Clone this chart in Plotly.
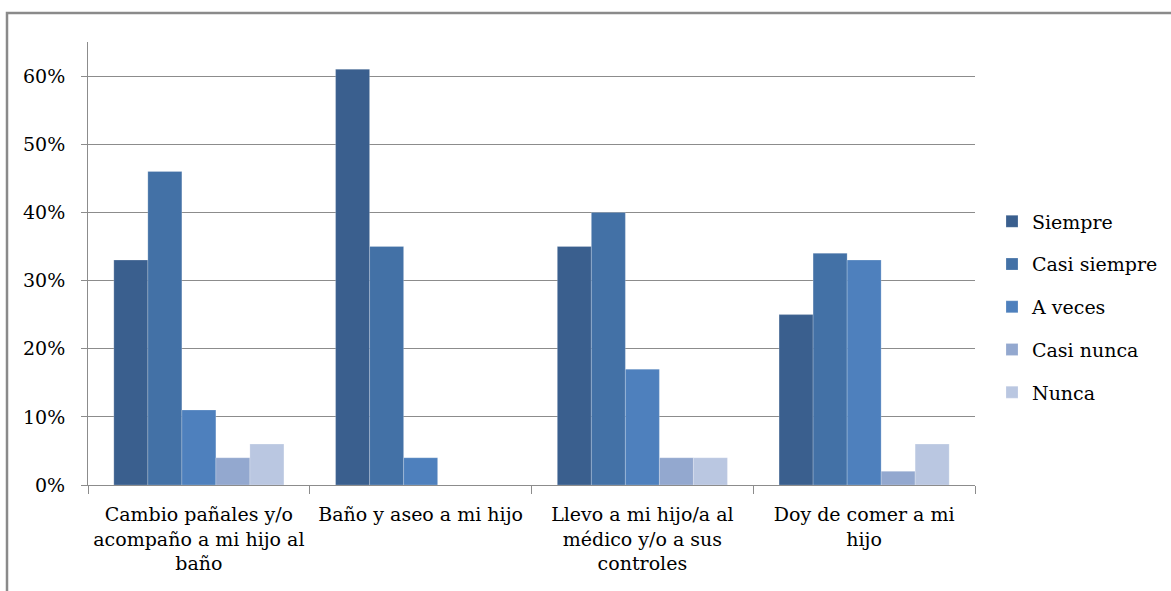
import plotly.graph_objects as go

categories = [
    "Cambio pañales y/o<br>acompaño a mi hijo al<br>baño",
    "Baño y aseo a mi hijo",
    "Llevo a mi hijo/a al<br>médico y/o a sus<br>controles",
    "Doy de comer a mi<br>hijo",
]
series_names = ["Siempre", "Casi siempre", "A veces", "Casi nunca", "Nunca"]
siempre = [0.33, 0.61, 0.35, 0.25]
casi_siempre = [0.46, 0.35, 0.40, 0.34]
a_veces = [0.11, 0.04, 0.17, 0.33]
casi_nunca = [0.04, 0.0, 0.04, 0.02]
nunca = [0.06, 0.0, 0.04, 0.06]
y_ticks = [0, 0.1, 0.2, 0.3, 0.4, 0.5, 0.6]

series_values = [siempre, casi_siempre, a_veces, casi_nunca, nunca]
colors = ["#3A5F8E", "#4371A6", "#4E80BD", "#93A8CF", "#BAC7E1"]

W, H = 1171, 591
L, R, T, B = 88, 196, 42, 106
pw, ph = W - L - R, H - T - B

def xp(px):
    return (px - L) / pw

def yp(py):
    return (H - B - py) / ph

font_family = "DejaVu Serif"
fs = 19

fig = go.Figure()
for i, (name, vals) in enumerate(zip(series_names, series_values)):
    fig.add_trace(go.Bar(
        x=categories, y=vals, name=name,
        marker=dict(color=colors[i], line=dict(width=0.6, color="rgba(255,255,255,0.35)")),
        legendgroup=f"g{i}",
    ))

fig.update_layout(
    width=W, height=H,
    margin=dict(l=L, r=R, t=T, b=B, pad=0, autoexpand=False),
    paper_bgcolor="white", plot_bgcolor="white",
    barmode="group", bargap=0.233, bargroupgap=0,
    font=dict(family=font_family, size=fs, color="black"),
    showlegend=True,
    legend=dict(
        x=xp(992), xanchor="left", y=yp(307), yanchor="middle",
        font=dict(family=font_family, size=fs, color="black"),
        tracegroupgap=15, itemwidth=30, bgcolor="rgba(0,0,0,0)",
    ),
    xaxis=dict(
        showline=True, linecolor="#8C8C8C", linewidth=1,
        ticks="outside", tickson="boundaries", ticklen=8, tickcolor="#8C8C8C",
        tickfont=dict(family=font_family, size=fs, color="black"),
        showgrid=False, ticklabelstandoff=12,
    ),
    yaxis=dict(
        range=[0, 0.65], tickvals=y_ticks, tickformat=".0%",
        showline=True, linecolor="#8C8C8C", linewidth=1,
        ticks="outside", ticklen=6, tickcolor="#8C8C8C",
        showgrid=True, gridcolor="#8C8C8C", gridwidth=1,
        zeroline=False,
        tickfont=dict(family=font_family, size=fs, color="black"),
        ticklabelstandoff=12,
    ),
    shapes=[dict(
        type="path", xref="paper", yref="paper",
        path=f"M {xp(7)},{yp(595)} L {xp(7)},{yp(13)} L {xp(1175)},{yp(13)}",
        line=dict(color="#8A8A8A", width=2.5),
    )],
)

fig.write_html("out.html")
